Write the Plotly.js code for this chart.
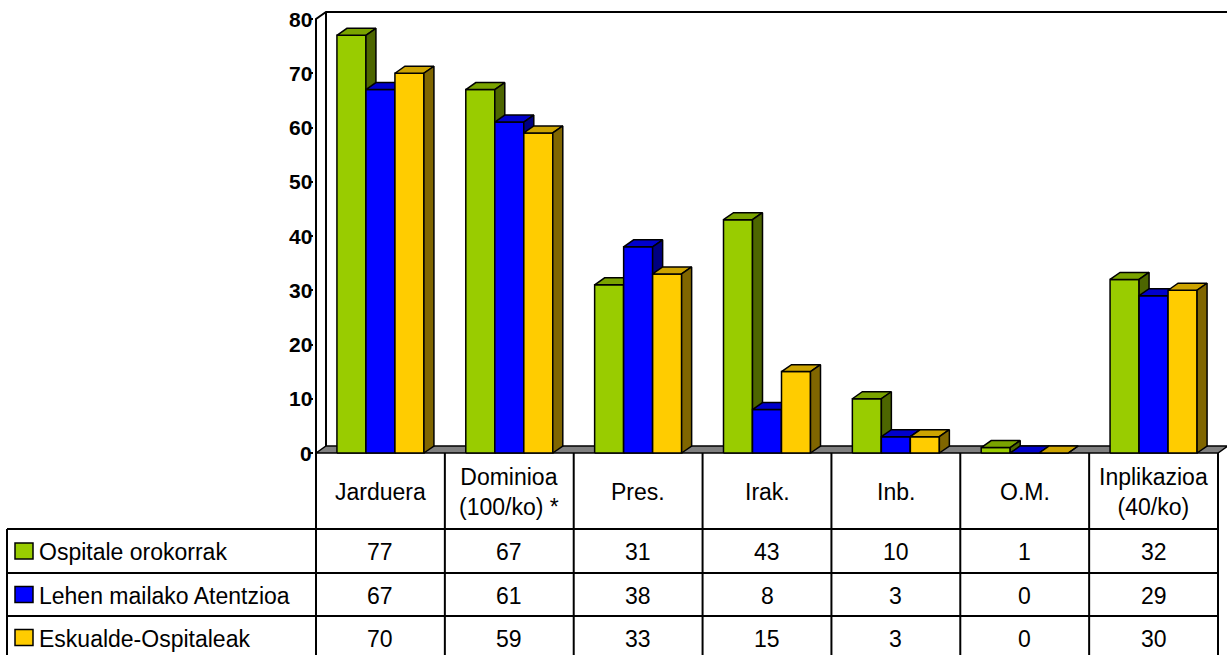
<!DOCTYPE html>
<html><head><meta charset="utf-8">
<script src="https://cdn.plot.ly/plotly-3.0.1.min.js"></script>
<style>html,body{margin:0;padding:0;background:#fff;overflow:hidden}</style>
</head><body><div id="chart" style="width:1227px;height:655px"></div>
<script>
// ---------- data ----------
const categories = ['Jarduera', 'Dominioa<br>(100/ko) *', 'Pres.', 'Irak.', 'Inb.', 'O.M.', 'Inplikazioa<br>(40/ko)'];
const seriesNames = ['Ospitale orokorrak', 'Lehen mailako Atentzioa', 'Eskualde-Ospitaleak'];
const ospitaleOrokorrak = [77, 67, 31, 43, 10, 1, 32];
const lehenMailakoAtentzioa = [67, 61, 38, 8, 3, 0, 29];
const eskualdeOspitaleak = [70, 59, 33, 15, 3, 0, 30];
const yTickValues = [0, 10, 20, 30, 40, 50, 60, 70, 80];

// ---------- styles ----------
const frontColors = ['#99CC00', '#0000FF', '#FFCC00'];
const topColors = ['#7AA300', '#0000CC', '#CCA300'];
const sideColors = ['#4D6600', '#000080', '#806600'];
const FONT = 'Liberation Sans, Arial, sans-serif';

// ---------- layout geometry (pixels) ----------
const W = 1227, H = 655;
const plotL = 314, plotR = 1227, plotT = 10, plotB = 455;
const x0Pix = 316, catW = (1218 - 316) / 7;      // pixel of x=0, px per category
const y0Pix = 453, yPPU = (453 - 19) / 80;        // pixel of y=0, px per unit
const xRange = [(plotL - x0Pix) / catW, (plotR - x0Pix) / catW];
const yRange = [(y0Pix - plotB) / yPPU, (y0Pix - plotT) / yPPU];
const nCat = categories.length;
const BW = 29 / catW, DX = 10 / catW, DY = 7 / yPPU;
const yMax = 80;

const xPaper = x => (x - xRange[0]) / (xRange[1] - xRange[0]);
const pxX = p => (p - plotL) / (plotR - plotL);
const pxY = p => (plotB - p) / (plotB - plotT);

const allSeries = [ospitaleOrokorrak, lehenMailakoAtentzioa, eskualdeOspitaleak];

function polyTrace(polys, fill, name) {
  const xs = [], ys = [];
  polys.forEach(p => {
    p.forEach(pt => { xs.push(pt[0]); ys.push(pt[1]); });
    xs.push(p[0][0]); ys.push(p[0][1]);
    xs.push(null); ys.push(null);
  });
  return {type: 'scatter', mode: 'lines', x: xs, y: ys, fill: 'toself', fillcolor: fill,
    line: {color: '#000', width: 1.5}, hoverinfo: 'skip', showlegend: false, name: name};
}

const traces = [];
// floor
traces.push(polyTrace([[[0, 0], [nCat, 0], [nCat + DX, DY], [DX, DY]]], '#808080', 'floor'));
// walls
traces.push({type: 'scatter', mode: 'lines',
  x: [0, 0, DX, nCat + DX, null, DX, DX],
  y: [0, yMax, yMax + DY, yMax + DY, null, DY, yMax + DY],
  line: {color: '#000', width: 2}, hoverinfo: 'skip', showlegend: false});

allSeries.forEach((vals, s) => {
  const fronts = [], tops = [], sides = [];
  vals.forEach((v, i) => {
    const xa = i + 0.5 + (s - 1.5) * BW, xb = xa + BW;
    fronts.push([[xa, 0], [xb, 0], [xb, v], [xa, v]]);
    tops.push([[xa, v], [xb, v], [xb + DX, v + DY], [xa + DX, v + DY]]);
    sides.push([[xb, 0], [xb + DX, DY], [xb + DX, v + DY], [xb, v]]);
  });
  traces.push(polyTrace(fronts, frontColors[s], seriesNames[s]));
  traces.push(polyTrace(tops, topColors[s], seriesNames[s]));
  traces.push(polyTrace(sides, sideColors[s], seriesNames[s]));
});

// ---------- data table ----------
const headTop = 453, headBot = 529, rowBots = [573, 616, 659];
const legendL = 7;
const shapes = [], annotations = [];
const line = {color: '#000', width: 2};
const TS = 23;
for (let k = 0; k <= nCat; k++) {
  shapes.push({type: 'line', xref: 'paper', yref: 'paper', x0: xPaper(k), x1: xPaper(k),
    y0: pxY(headTop), y1: pxY(rowBots[2]), line: line});
}
shapes.push({type: 'line', xref: 'paper', yref: 'paper', x0: pxX(legendL), x1: pxX(legendL),
  y0: pxY(headBot), y1: pxY(rowBots[2]), line: line});
[headBot].concat(rowBots).forEach(py => {
  shapes.push({type: 'line', xref: 'paper', yref: 'paper', x0: pxX(legendL), x1: xPaper(nCat),
    y0: pxY(py), y1: pxY(py), line: line});
});
categories.forEach((c, i) => {
  annotations.push({xref: 'paper', yref: 'paper', x: xPaper(i + 0.5), y: pxY((headTop + headBot) / 2 + 1),
    text: c, showarrow: false, xanchor: 'center', yanchor: 'middle',
    font: {family: FONT, size: TS, color: '#000'}});
});
const rowTops = [headBot, rowBots[0], rowBots[1]];
allSeries.forEach((vals, s) => {
  const cy = (rowTops[s] + rowBots[s]) / 2;
  shapes.push({type: 'rect', xref: 'paper', yref: 'paper', x0: pxX(15), x1: pxX(33),
    y0: pxY(cy - 8), y1: pxY(cy + 8), fillcolor: frontColors[s], line: {color: '#000', width: 1.5}});
  annotations.push({xref: 'paper', yref: 'paper', x: pxX(37), y: pxY(cy + 1), text: seriesNames[s],
    showarrow: false, xanchor: 'left', yanchor: 'middle', font: {family: FONT, size: TS, color: '#000'}});
  vals.forEach((v, i) => {
    annotations.push({xref: 'paper', yref: 'paper', x: xPaper(i + 0.5), y: pxY(cy + 1), text: String(v),
      showarrow: false, xanchor: 'center', yanchor: 'middle', font: {family: FONT, size: TS, color: '#000'}});
  });
});
// y tick labels (bold)
yTickValues.forEach(v => {
  annotations.push({xref: 'paper', yref: 'y', x: pxX(313), y: v, text: '<b>' + v + '</b>',
    showarrow: false, xanchor: 'right', yanchor: 'middle', borderpad: 0,
    font: {family: FONT, size: 21, color: '#000'}});
});

const layout = {
  width: W, height: H,
  margin: {l: plotL, r: W - plotR, t: plotT, b: H - plotB, pad: 0},
  paper_bgcolor: '#fff', plot_bgcolor: '#fff',
  showlegend: false,
  xaxis: {range: xRange, showgrid: false, zeroline: false, showticklabels: false, ticks: '', showline: false, fixedrange: true},
  yaxis: {range: yRange, showgrid: false, zeroline: false, showline: false, showticklabels: false,
    tickmode: 'array', tickvals: yTickValues,
    ticks: 'outside', ticklen: 4, tickwidth: 2, tickcolor: '#000', fixedrange: true},
  shapes: shapes,
  annotations: annotations
};

Plotly.newPlot('chart', traces, layout, {displayModeBar: false, staticPlot: true});
</script>
</body></html>
